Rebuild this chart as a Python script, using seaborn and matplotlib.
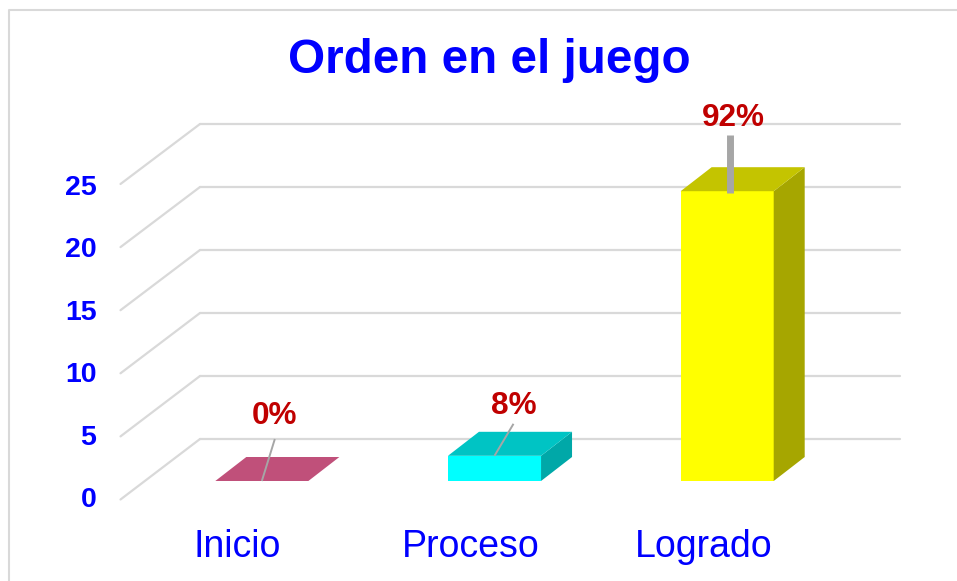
import matplotlib
matplotlib.use("Agg")
import matplotlib.pyplot as plt
import pandas as pd
import seaborn as sns
from matplotlib.lines import Line2D
from matplotlib.patches import ConnectionPatch, Polygon

categories = ["Inicio", "Proceso", "Logrado"]
values = [0, 2, 23]
percent_labels = ["0%", "8%", "92%"]
y_ticks = [0, 5, 10, 15, 20, 25]

front_colors = ["#C0507A", "#00FFFF", "#FFFF00"]
top_colors = ["#C0507A", "#00C4C4", "#C4C400"]
side_colors = ["#C0507A", "#00A8A8", "#A6A600"]

W, H = 957, 581
BLUE = "#0000FF"
RED = "#C00000"
GRID = "#D9D9D9"
LEADER = "#A6A6A6"
DEPTH_X, DEPTH_Y = 31, 24

sns.set_theme(style="white")
plt.rcParams["font.family"] = ["Liberation Sans", "DejaVu Sans"]

fig = plt.figure(figsize=(W / 100, H / 100), dpi=100, facecolor="white")


def axes_px(left, right, top, bottom):
    a = fig.add_axes([left / W, 1 - bottom / H, (right - left) / W, (bottom - top) / H])
    a.patch.set_alpha(0)
    return a


# back wall with the real gridlines
ax_back = axes_px(200, 900, 124, 439)
ax_back.set_ylim(0, 25)
ax_back.set_yticks(y_ticks)
ax_back.set_xticks([])
ax_back.tick_params(left=False, labelleft=False)
ax_back.grid(axis="y", color=GRID, lw=1.6, clip_on=False)
for gl in ax_back.get_ygridlines():
    gl.set_clip_on(False)
ax_back.set_axisbelow(True)
sns.despine(ax=ax_back, left=True, bottom=True)

# front plane carries the side-wall ends and the category labels
ax_front = axes_px(120.5, 820.5, 184, 499.5)
ax_front.set_xlim(-0.5, 2.5)
ax_front.set_ylim(0, 25)
ax_front.set_yticks([])
ax_front.set_xticks(range(len(categories)))
ax_front.set_xticklabels(categories, fontsize=27, color=BLUE)
ax_front.tick_params(axis="x", length=0, pad=21)
sns.despine(ax=ax_front, left=True, bottom=True)
ax_front.grid(False)

# value tick labels sit on their own slightly tighter scale
ax_vals = axes_px(120, 820, 185, 497)
ax_vals.set_ylim(0, 25)
ax_vals.set_xticks([])
ax_vals.set_yticks(y_ticks)
ax_vals.set_yticklabels([str(v) for v in y_ticks], fontsize=20.5, fontweight="bold", color=BLUE)
ax_vals.tick_params(axis="y", length=0, pad=17)
sns.despine(ax=ax_vals, left=True, bottom=True)
ax_vals.grid(False)

# side-wall diagonals
for v in y_ticks:
    fig.add_artist(ConnectionPatch(
        (0, v), (0, v),
        coordsA=ax_front.get_yaxis_transform(), coordsB=ax_back.get_yaxis_transform(),
        color=GRID, lw=1.6))

# bars
ax_bar = axes_px(145.5, 843.5, 166, 481)
df = pd.DataFrame({"categoria": categories, "valor": values})
sns.barplot(data=df, x="categoria", y="valor", hue="categoria", palette=front_colors,
            order=categories, legend=False, width=0.4, saturation=1, ax=ax_bar, zorder=3,
            linewidth=0)
ax_bar.set_xlim(-0.5, 2.5)
ax_bar.set_ylim(0, 25)
ax_bar.axis("off")

fig.canvas.draw()
for patch, top_c, side_c in zip(ax_bar.patches, top_colors, side_colors):
    x0, w, h = patch.get_x(), patch.get_width(), patch.get_height()
    (xl, yb), (xr, yt) = ax_bar.transData.transform([(x0, 0), (x0 + w, h)])
    top = [(xl, yt), (xr, yt), (xr + DEPTH_X, yt + DEPTH_Y), (xl + DEPTH_X, yt + DEPTH_Y)]
    side = [(xr, yb), (xr + DEPTH_X, yb + DEPTH_Y), (xr + DEPTH_X, yt + DEPTH_Y), (xr, yt)]
    ax_bar.add_patch(Polygon(side, closed=True, transform=None, fc=side_c, ec="none", zorder=3, clip_on=False))
    ax_bar.add_patch(Polygon(top, closed=True, transform=None, fc=top_c, ec="none", zorder=3, clip_on=False))

# leader lines and data labels: pixel offsets from the bar's front-top centre
leader_start = [(0, 0), (0, 0), (3, -2)]
leader_end = [(13, 42), (19, 32), (3, 56)]
leader_width = [1.4, 1.4, 5]
label_offset = [(13, 65), (19, 50), (6, 73)]
for i, v in enumerate(values):
    anchor = ax_bar.transData.transform((i, v))
    xs, ys = zip(anchor + leader_start[i], anchor + leader_end[i])
    ax_bar.add_line(Line2D(xs, ys, transform=None, color=LEADER, lw=leader_width[i],
                           solid_capstyle="butt", zorder=5, clip_on=False))
    ax_bar.annotate(percent_labels[i], xy=(i, v), xytext=label_offset[i], textcoords="offset pixels",
                    ha="center", va="center", fontsize=22.7, fontweight="bold", color=RED,
                    annotation_clip=False, zorder=6)

fig.text(489.5 / W, 1 - 60.5 / H, "Orden en el juego", ha="center", va="center",
         fontsize=34.3, fontweight="bold", color=BLUE)

# chart-area frame running off the picture
frame = Line2D([9 / W, 9 / W, 1], [0, 1 - 9.5 / H, 1 - 9.5 / H],
               transform=fig.transFigure, color=GRID, lw=1.5)
fig.add_artist(frame)

fig.savefig("out.png", dpi=100, facecolor="white")
